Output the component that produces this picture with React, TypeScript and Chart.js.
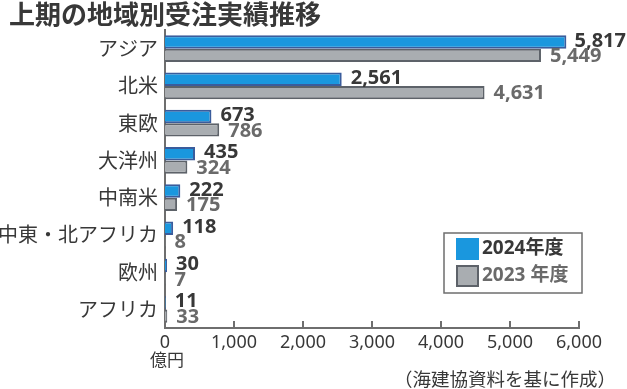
import React, { useEffect, useRef } from "react";
import { Chart, registerables } from "chart.js";

Chart.register(...registerables);

const title = "上期の地域別受注実績推移";
const categories = ["アジア", "北米", "東欧", "大洋州", "中南米", "中東・北アフリカ", "欧州", "アフリカ"];
const seriesNames = ["2024年度", "2023 年度"];
const values2024 = [5817, 2561, 673, 435, 222, 118, 30, 11];
const values2023 = [5449, 4631, 786, 324, 175, 8, 7, 33];
const xMin = 0;
const xMax = 6000;
const xStep = 1000;
const unitLabel = "億円";
const sourceLabel = "（海建協資料を基に作成）";

const CJK = "'Noto Sans CJK JP', sans-serif";
const LATIN = "'Noto Sans', 'Noto Sans CJK JP', sans-serif";
const TEXT = "#383838";
const GREY_TEXT = "#6a6a6a";
const AXIS = "#6e6e6e";
const BLUE = "#1a97de";
const BLUE_BORDER = "#3a5c9c";
const GREY = "#a9adb1";
const GREY_BORDER = "#5d6269";

const fmt = (v: number) => Number(v).toLocaleString("en-US");

const decorPlugin = {
  id: "decor",
  afterDraw(chart: any) {
    const ctx = chart.ctx;
    const area = chart.chartArea;
    const xs = chart.scales.x;
    ctx.save();
    // inward tick marks
    ctx.strokeStyle = AXIS;
    ctx.lineWidth = 2;
    xs.ticks.forEach((t: any) => {
      const px = Math.round(xs.getPixelForValue(t.value));
      ctx.beginPath();
      ctx.moveTo(px, area.bottom);
      ctx.lineTo(px, area.bottom - 7);
      ctx.stroke();
    });

    // data labels
    const colors = [TEXT, GREY_TEXT];
    ctx.font = `bold 20px ${LATIN}`;
    ctx.textBaseline = "middle";
    ctx.textAlign = "left";
    chart.data.datasets.forEach((ds: any, di: number) => {
      const meta = chart.getDatasetMeta(di);
      meta.data.forEach((el: any, i: number) => {
        const txt = fmt(ds.data[i]);
        const w = ctx.measureText(txt).width;
        let x = el.x + 9;
        if (x + w > chart.width - 1) x = chart.width - 1 - w;
        ctx.fillStyle = colors[di];
        ctx.fillText(txt, x, el.y + (di === 0 ? -1 : 1));
      });
    });

    // title
    ctx.fillStyle = TEXT;
    ctx.font = `bold 26px ${CJK}`;
    ctx.textAlign = "left";
    ctx.fillText(title, 9, 14);

    // unit
    ctx.font = `17px ${CJK}`;
    ctx.textAlign = "center";
    ctx.fillText(unitLabel, area.left + 2, 360);

    // source
    ctx.textAlign = "right";
    ctx.font = `18.5px ${CJK}`;
    ctx.fillText(sourceLabel, 616, 379);

    // legend
    const lx = 444, ly = 233, lw = 138, lh = 60;
    ctx.strokeStyle = AXIS;
    ctx.lineWidth = 1.5;
    ctx.strokeRect(lx, ly, lw, lh);
    const sw = [
      { fill: BLUE, stroke: BLUE, text: TEXT },
      { fill: GREY, stroke: GREY_BORDER, text: GREY_TEXT },
    ];
    chart.data.datasets.forEach((ds: any, di: number) => {
      const sy = ly + 5 + di * 27;
      ctx.fillStyle = sw[di].fill;
      ctx.fillRect(lx + 12, sy, 23, 22);
      ctx.strokeStyle = sw[di].stroke;
      ctx.lineWidth = 2;
      ctx.strokeRect(lx + 13, sy + 1, 21, 20);
      ctx.fillStyle = sw[di].text;
      ctx.font = `bold 19px ${LATIN}`;
      ctx.textAlign = "left";
      ctx.textBaseline = "middle";
      ctx.fillText(ds.label, lx + 38, sy + 11);
    });
    ctx.restore();
  },
};

export default function App() {
  const ref = useRef<HTMLCanvasElement>(null);
  useEffect(() => {
    document.body.style.margin = "0";
    const chart = new Chart(ref.current as HTMLCanvasElement, {
      type: "bar",
      data: {
        labels: categories,
        datasets: [
          {
            label: seriesNames[0],
            data: values2024,
            backgroundColor: BLUE,
            borderColor: BLUE_BORDER,
            borderWidth: 2,
            barPercentage: 1,
            categoryPercentage: 0.72,
          },
          {
            label: seriesNames[1],
            data: values2023,
            backgroundColor: GREY,
            borderColor: GREY_BORDER,
            borderWidth: 2,
            barPercentage: 1,
            categoryPercentage: 0.72,
          },
        ],
      },
      options: {
        indexAxis: "y",
        responsive: false,
        devicePixelRatio: 1,
        animation: false,
        layout: { padding: { top: 30, right: 48, left: 0, bottom: 0 } },
        plugins: {
          legend: { display: false },
          tooltip: { enabled: false },
          title: { display: false },
        },
        scales: {
          y: {
            type: "category",
            grid: { display: false, drawTicks: false },
            border: { display: true, color: AXIS, width: 2 },
            ticks: { color: TEXT, font: { family: CJK, size: 20 }, padding: 7 },
            afterFit(s: any) {
              s.width = 165;
            },
          },
          x: {
            type: "linear",
            min: xMin,
            max: xMax,
            grid: { display: false, drawTicks: false },
            border: { display: true, color: AXIS, width: 2 },
            ticks: {
              stepSize: xStep,
              color: TEXT,
              font: { family: LATIN, size: 18 },
              padding: 4,
              callback: (v: any) => fmt(v),
            },
            afterFit(s: any) {
              s.height = 61;
            },
          },
        },
      },
      plugins: [decorPlugin],
    } as any);
    return () => chart.destroy();
  }, []);
  return (
    <div style={{ width: 627, height: 389 }}>
      <canvas ref={ref} width={627} height={389} style={{ display: "block" }} />
    </div>
  );
}
